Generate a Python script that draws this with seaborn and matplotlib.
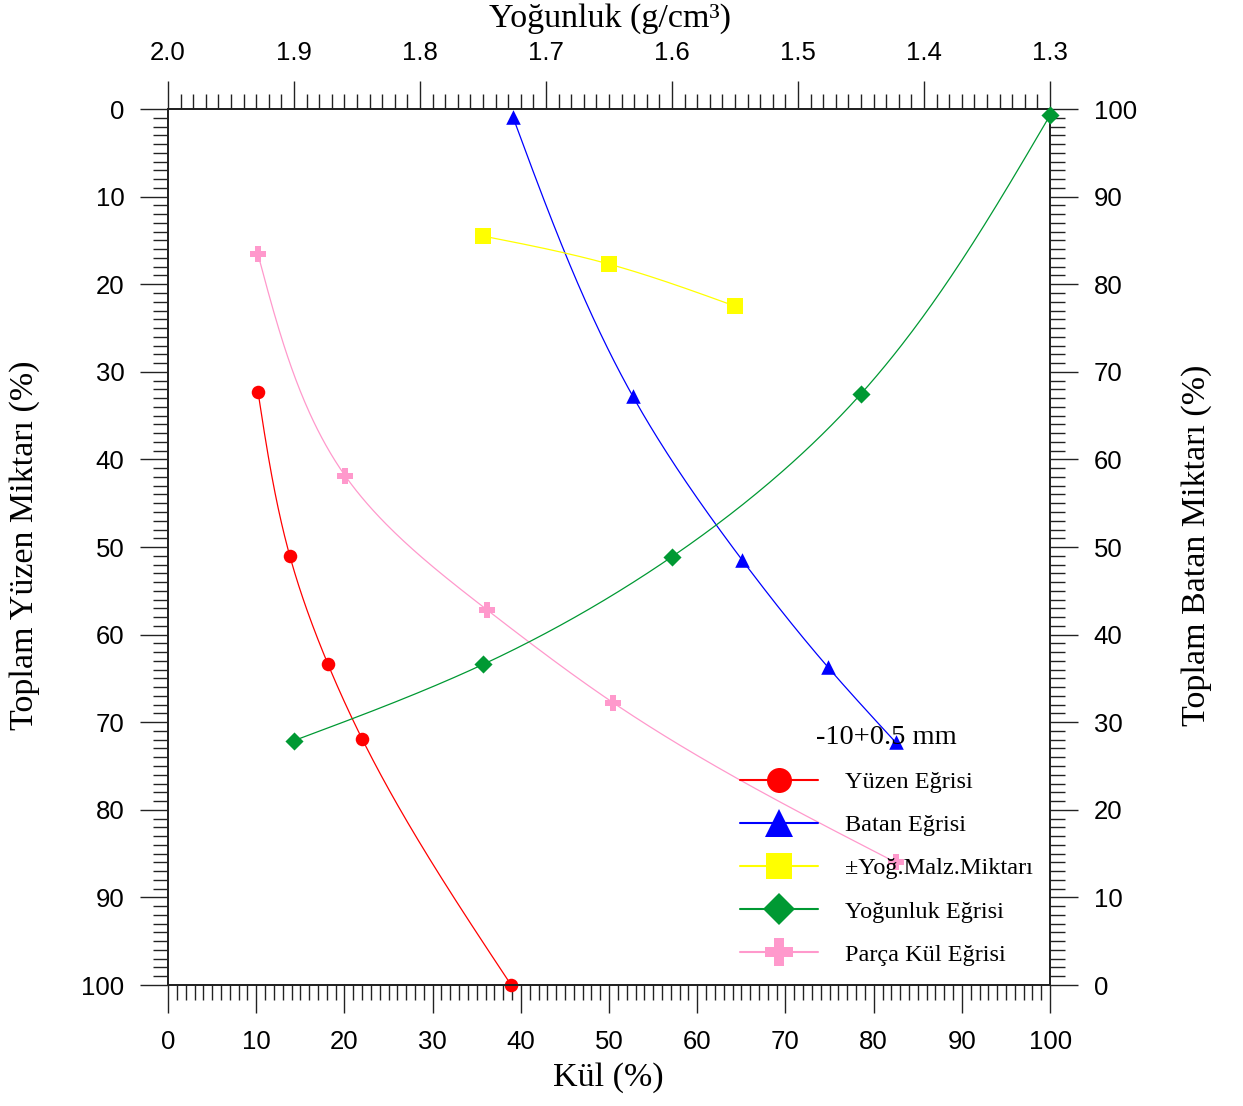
import numpy as np
import pandas as pd
import matplotlib
matplotlib.use("Agg")
import matplotlib.pyplot as plt
from matplotlib.lines import Line2D
from matplotlib.ticker import MultipleLocator, FormatStrFormatter
import seaborn as sns

# ---- data -------------------------------------------------------------
# Density fractions (g/cm3) and cumulative float yield (%)
density = [1.9, 1.75, 1.6, 1.45, 1.3]
density_float_cum = [72.1, 63.4, 51.1, 32.5, 0.7]

# Float curve: cumulative ash (%) vs cumulative float yield (%)
float_ash = [10.2, 13.8, 18.1, 22.0, 38.9]
float_cum = [32.3, 51.0, 63.3, 71.9, 100.0]

# Sink curve: cumulative ash (%) vs cumulative sink yield (%)
sink_ash = [39.1, 52.7, 65.1, 74.8, 82.5]
sink_cum = [99.1, 67.2, 48.5, 36.3, 27.7]

# Near-density material (+/-0.1) vs density
near_density = [1.75, 1.65, 1.55]
near_amount = [14.5, 17.7, 22.5]

# Fraction ash (%) at the mid-point of each fraction's yield
frac_ash = [10.2, 20.1, 36.2, 50.5, 82.5]
frac_mid = [16.6, 41.9, 57.2, 67.8, 86.0]

size_label = "-10+0.5 mm"
labels = ["Yüzen Eğrisi", "Batan Eğrisi", "±Yoğ.Malz.Miktarı",
          "Yoğunluk Eğrisi", "Parça Kül Eğrisi"]
colors = ["#ff0000", "#0000ff", "#ffff00", "#009933", "#ff99cc"]
markers = ["o", "^", "s", "D", "P"]


def natural_spline(t, y, tt):
    t = np.asarray(t, float); y = np.asarray(y, float)
    n = len(t); h = np.diff(t)
    A = np.zeros((n, n)); r = np.zeros(n)
    A[0, 0] = A[-1, -1] = 1.0
    for i in range(1, n - 1):
        A[i, i - 1] = h[i - 1]
        A[i, i] = 2 * (h[i - 1] + h[i])
        A[i, i + 1] = h[i]
        r[i] = 3 * ((y[i + 1] - y[i]) / h[i] - (y[i] - y[i - 1]) / h[i - 1])
    c = np.linalg.solve(A, r)
    b = (y[1:] - y[:-1]) / h - h * (2 * c[:-1] + c[1:]) / 3
    d = (c[1:] - c[:-1]) / (3 * h)
    idx = np.clip(np.searchsorted(t, tt, side="right") - 1, 0, n - 2)
    dt = tt - t[idx]
    return y[idx] + b[idx] * dt + c[idx] * dt ** 2 + d[idx] * dt ** 3


def smooth_path(x, y, sx=1.0, x0=0.0, n=300):
    """Parametric natural spline through the points, in screen-like units."""
    u = (np.asarray(x, float) - x0) * sx
    v = np.asarray(y, float)
    t = np.concatenate([[0], np.cumsum(np.hypot(np.diff(u), np.diff(v)))])
    tt = np.linspace(0, t[-1], n)
    uu = natural_spline(t, u, tt)
    vv = natural_spline(t, v, tt)
    return uu / sx + x0, vv


sns.set_theme(style="white")
plt.rcParams["font.family"] = ["Liberation Sans", "DejaVu Sans"]
for key in ("text.color", "axes.labelcolor", "xtick.color", "ytick.color"):
    plt.rcParams[key] = "black"

fig = plt.figure(figsize=(12.43, 11.06), dpi=100)
ax = fig.add_axes([0.1352, 0.1094, 0.7096, 0.7920])
ax_r = ax.twinx()
ax_t = ax.twiny()

ax.set_xlim(0, 100)
ax.set_ylim(100, 0)
ax_r.set_ylim(0, 100)
ax_t.set_xlim(2.0, 1.3)

lw = 0.9

# Float curve
fx, fy = smooth_path(float_ash, float_cum)
sns.lineplot(x=fx, y=fy, sort=False, ax=ax, color=colors[0], lw=lw, estimator=None)
sns.scatterplot(x=float_ash, y=float_cum, ax=ax, color=colors[0], marker="o",
                s=95, linewidth=0, clip_on=False, zorder=5)

# Fraction ash curve
px, py = smooth_path(frac_ash, frac_mid)
sns.lineplot(x=px, y=py, sort=False, ax=ax, color=colors[4], lw=lw, estimator=None)
sns.scatterplot(x=frac_ash, y=frac_mid, ax=ax, color=colors[4], marker="P",
                s=140, linewidth=0, clip_on=False, zorder=5)

# Sink curve on right axis
bx, by = smooth_path(sink_ash, sink_cum)
sns.lineplot(x=bx, y=by, sort=False, ax=ax_r, color=colors[1], lw=lw, estimator=None)
sns.scatterplot(x=sink_ash, y=sink_cum, ax=ax_r, color=colors[1], marker="^",
                s=110, linewidth=0, clip_on=False, zorder=5)

# Density-based curves on top axis
sd = 100 / 0.7
gx, gy = smooth_path(density, density_float_cum, sx=sd, x0=2.0)
sns.lineplot(x=gx, y=gy, sort=False, ax=ax_t, color=colors[3], lw=lw, estimator=None)
sns.scatterplot(x=density, y=density_float_cum, ax=ax_t, color=colors[3], marker="D",
                s=85, linewidth=0, clip_on=False, zorder=5)

yx, yy = smooth_path(near_density, near_amount, sx=sd, x0=2.0)
sns.lineplot(x=yx, y=yy, sort=False, ax=ax_t, color=colors[2], lw=lw, estimator=None)
sns.scatterplot(x=near_density, y=near_amount, ax=ax_t, color=colors[2], marker="s",
                s=140, linewidth=0, clip_on=False, zorder=5)
ax_t.set_ylim(100, 0)

# ---- ticks ------------------------------------------------------------
tick_font = 18.5
maj = dict(which="major", direction="out", length=20.5, width=1.0, color="#222222",
           labelsize=tick_font, labelcolor="black")
mnr = dict(which="minor", direction="out", length=10.5, width=1.0, color="#222222")

ax.xaxis.set_major_locator(MultipleLocator(10))
ax.xaxis.set_minor_locator(MultipleLocator(1))
ax.yaxis.set_major_locator(MultipleLocator(10))
ax.yaxis.set_minor_locator(MultipleLocator(1))
ax.tick_params(axis="x", pad=12, bottom=True, top=False, **maj)
ax.tick_params(axis="x", bottom=True, top=False, **mnr)
ax.tick_params(axis="y", pad=11, left=True, right=False, **maj)
ax.tick_params(axis="y", left=True, right=False, **mnr)

ax_r.yaxis.set_major_locator(MultipleLocator(10))
ax_r.yaxis.set_minor_locator(MultipleLocator(1))
ax_r.tick_params(axis="y", pad=11, **maj)
ax_r.tick_params(axis="y", **mnr)

ax_t.xaxis.set_major_locator(MultipleLocator(0.1))
ax_t.xaxis.set_minor_locator(MultipleLocator(0.01))
ax_t.xaxis.set_major_formatter(FormatStrFormatter("%.1f"))
ax_t.tick_params(axis="x", pad=11, **maj)
ax_t.tick_params(axis="x", **mnr)
ax_t.tick_params(axis="y", left=False, right=False, labelleft=False, labelright=False,
                 which="both")

for a in (ax, ax_r, ax_t):
    for s in a.spines.values():
        s.set_visible(True)
        s.set_linewidth(1.2)
        s.set_color("#222222")

# ---- axis labels ------------------------------------------------------
serif = ["Liberation Serif", "DejaVu Serif"]
lab_font = dict(family=serif, size=24.5, color="black")
ax.set_xlabel("Kül (%)", **lab_font)
ax.set_ylabel("Toplam Yüzen Miktarı (%)", **lab_font)
ax_r.set_ylabel("Toplam Batan Miktarı (%)", **lab_font)
ax_t.set_xlabel("Yoğunluk (g/cm³)", **lab_font)

ax.xaxis.set_label_coords((608 - 168) / 882, (985 - 1078) / 876)
ax.xaxis.label.set_va("center")
ax_t.xaxis.set_label_coords((610 - 168) / 882, (985 - 19) / 876)
ax_t.xaxis.label.set_va("center")
ax.yaxis.set_label_coords((25 - 168) / 882, (985 - 545) / 876)
ax.yaxis.label.set_va("center")
ax_r.yaxis.set_label_coords((1197 - 168) / 882, (985 - 545) / 876)
ax_r.yaxis.label.set_va("center")

# ---- legend -----------------------------------------------------------
handles = [Line2D([0], [0], color=c, lw=1.5, marker=m, markersize=ms_,
                  markeredgewidth=0)
           for c, m, ms_ in zip(colors, markers, [18, 20, 19, 16, 20])]
leg = ax_t.legend(handles, labels, title=size_label, frameon=False,
                  loc="upper left", bbox_to_anchor=(740 / 1243, 1 - 725 / 1106),
                  bbox_transform=fig.transFigure, borderpad=0, borderaxespad=0,
                  handlelength=3.2, handletextpad=1.1, labelspacing=0.87,
                  prop=dict(family=serif, size=17.5),
                  title_fontproperties=dict(family=serif, size=20.5))
leg.set_zorder(10)

fig.savefig("out.png", dpi=100, facecolor="white")
